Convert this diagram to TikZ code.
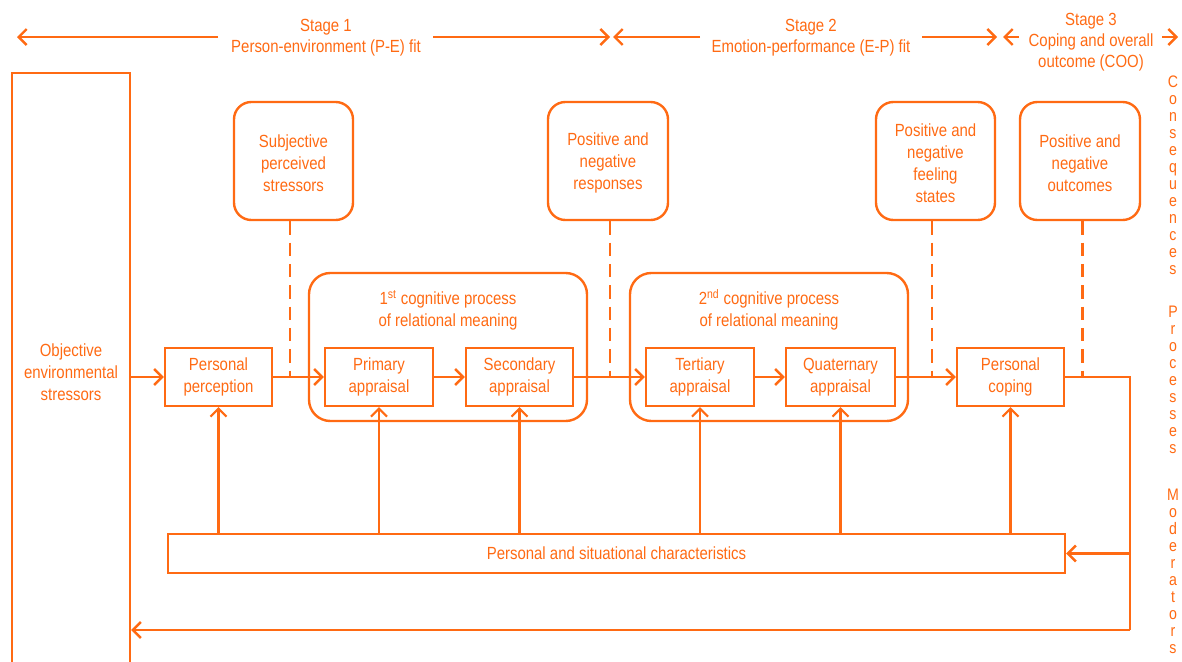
\documentclass[tikz,border=0pt]{standalone}
\usepackage{fontspec}
\setmainfont{Liberation Sans}[FakeStretch=0.85]
\usetikzlibrary{arrows.meta}
\definecolor{org}{HTML}{FF6A13}
\begin{document}
\begin{tikzpicture}[x=0.75pt,y=-0.75pt,
  every node/.style={text=org, font=\fontsize{13.2}{16.5}\selectfont, align=center, inner sep=0pt},
  ln/.style={draw=org, line width=1.8pt},
  thin/.style={draw=org, line width=1.6pt},
  tip/.style={-{Straight Barb[length=6pt,width=12pt]}},
  arr/.style={ln, tip},
  box/.style={ln, rectangle},
  rbox/.style={ln, rectangle, rounded corners=13pt},
  sz/.style n args={2}{minimum width=#1*0.75pt, minimum height=#2*0.75pt},
  dsh/.style={ln, dash pattern=on 10pt off 6pt},
  stage/.style={font=\fontsize{13.2}{15.75}\selectfont},
  vword/.style={font=\fontsize{12.5}{12.75}\selectfont},
]
\useasboundingbox (0,0) rectangle (1182,661);

% stage headers
\node[stage] (st1) at (326,38) {Stage 1\\Person-environment (P-E) fit};
\node[stage] (st2) at (811,38) {Stage 2\\Emotion-performance (E-P) fit};
\node[stage] (st3) at (1091,42) {Stage 3\\Coping and overall\\outcome (COO)};
\coordinate (s1a) at (218,37);  \coordinate (s1b) at (433,37);
\coordinate (s1l) at (17,37);   \coordinate (s1r) at (610,37);
\coordinate (s2a) at (700,37);  \coordinate (s2b) at (922,37);
\coordinate (s2l) at (613,37);  \coordinate (s2r) at (997,37);
\coordinate (s3a) at (1019,37); \coordinate (s3b) at (1162,37);
\coordinate (s3l) at (1003,37); \coordinate (s3r) at (1178,37);
\draw[arr] (s1a) -- (s1l);
\draw[arr] (s1b) -- (s1r);
\draw[arr] (s2a) -- (s2l);
\draw[arr] (s2b) -- (s2r);
\draw[arr] (s3a) -- (s3l);
\draw[arr] (s3b) -- (s3r);

% side labels
\node[vword] (cons) at (1173,175) {C\\o\\n\\s\\e\\q\\u\\e\\n\\c\\e\\s};
\node[vword] (proc) at (1173,380) {P\\r\\o\\c\\e\\s\\s\\e\\s};
\node[vword] (mode) at (1173,571) {M\\o\\d\\e\\r\\a\\t\\o\\r\\s};

% objective stressors
\node[box, sz={118}{598}] (obj) at (71,372) {Objective\\environmental\\stressors};

% consequence boxes
\node[rbox, sz={119}{118}] (sps) at (293.5,161) {};
\node[rbox, sz={120}{118}] (pnr) at (608,161) {};
\node[rbox, sz={119}{118}] (pnf) at (935.5,161) {};
\node[rbox, sz={120}{118}] (pno) at (1080,161) {};
\node (spst) at (293.5,163) {Subjective\\perceived\\stressors};
\node (pnrt) at (608,163) {Positive and\\negative\\responses};
\node (pnft) at (935.5,163) {Positive and\\negative\\feeling\\states};
\node (pnot) at (1080,163) {Positive and\\negative\\outcomes};

% cognitive process groups
\node[rbox, rounded corners=16pt, sz={278}{148}] (g1) at (448,347) {};
\node[rbox, rounded corners=16pt, sz={278}{148}] (g2) at (769,347) {};
\node (g1t) at (448,310) {1\textsuperscript{st} cognitive process\\of relational meaning};
\node (g2t) at (769,310) {2\textsuperscript{nd} cognitive process\\of relational meaning};

% process boxes
\node[box, sz={107}{58}] (pp) at (218.5,377) {Personal\\perception};
\node[box, sz={108}{58}] (pa) at (379,377) {Primary\\appraisal};
\node[box, sz={107}{58}] (sa) at (519.5,377) {Secondary\\appraisal};
\node[box, sz={108}{58}] (ta) at (700,377) {Tertiary\\appraisal};
\node[box, sz={109}{58}] (qa) at (840.5,377) {Quaternary\\appraisal};
\node[box, sz={107}{58}] (pc) at (1010.5,377) {Personal\\coping};

% moderators box
\node[box, sz={897}{39}] (chars) at (616.5,553.5) {Personal and situational characteristics};

% main flow
\draw[arr] (obj.east |- pp) -- (pp);
\draw[arr] (pp) -- (pa);
\draw[arr] (pa) -- (sa);
\draw[arr] (sa) -- (ta);
\draw[arr] (ta) -- (qa);
\draw[arr] (qa) -- (pc);

% feedback loop
\coordinate (fb1) at (1130,377);
\coordinate (fb2) at (1130,630);
\draw[ln] (pc) -- (fb1) -- (fb2);
\draw[arr] (fb2) -- (obj.east |- fb2);
\draw[arr] (fb1 |- chars) -- (chars);

% dashed links to consequences
\draw[dsh] ([xshift=-2.5pt]sps.south) -- ([xshift=-2.5pt]sps.south |- pp);
\draw[dsh] ([xshift=1.5pt]pnr.south) -- ([xshift=1.5pt]pnr.south |- pp);
\draw[dsh] ([xshift=-2.5pt]pnf.south) -- ([xshift=-2.5pt]pnf.south |- pp);
\draw[dsh] ([xshift=2pt]pno.south) -- ([xshift=2pt]pno.south |- pp);

% moderator influences
\foreach \n in {pp,pa,sa,ta,qa,pc}
  \draw[thin, tip] (chars.north -| \n) -- (\n.south);
\end{tikzpicture}
\end{document}
